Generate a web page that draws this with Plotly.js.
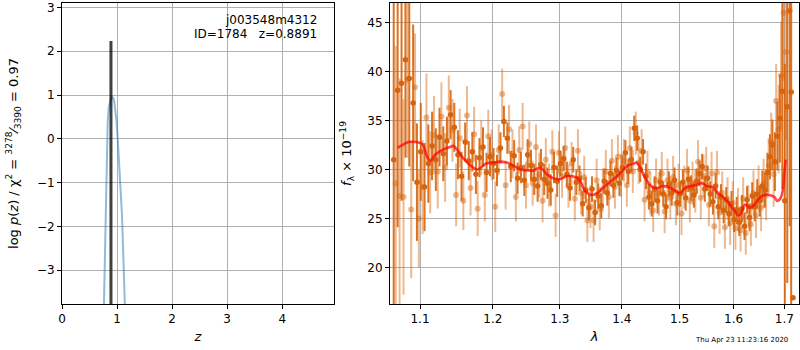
<!DOCTYPE html>
<html><head><meta charset="utf-8">
<script src="https://cdn.plot.ly/plotly-3.0.1.min.js"></script>
<style>html,body{margin:0;padding:0;background:#fff}#g{width:800px;height:350px}</style>
</head><body><div id="g"></div>
<script>
// ---- left panel: redshift PDF ----
const zGrid = [0.755,0.765,0.775,0.785,0.80,0.815,0.83,0.85,0.87,0.89,0.91,0.93,0.95,0.97,0.99,1.01,1.03,1.05,1.07,1.09,1.11,1.13,1.15];
const logPz = [-4.2,-3.6,-2.6,-1.8,-1.0,-0.2,0.4,0.72,0.88,0.93,0.95,0.94,0.85,0.65,0.4,0.05,-0.35,-0.75,-1.1,-1.75,-2.55,-3.3,-4.1];
const zBest = 0.8891;
const zBestTop = 2.23;
const zTicks = [0,1,2,3,4];
const pTicks = [-3,-2,-1,0,1,2,3];

// ---- right panel: spectrum (dark = first grism spectrum) ----
const lamA = [1.066,1.071,1.076,1.081,1.086,1.091,1.096,1.101,1.106,1.111,1.116,1.121,1.126,1.131,1.136,1.141,1.146,1.151,1.156,1.161,1.166,1.171,1.176,1.181,1.186,1.191,1.196,1.201,1.206,1.211,1.216,1.221,1.226,1.231,1.236,1.241,1.246,1.251,1.256,1.261,1.266,1.271,1.276,1.281,1.286,1.291,1.296,1.301,1.306,1.311,1.316,1.321,1.326,1.331,1.336,1.341,1.346,1.351,1.356,1.361,1.366,1.371,1.376,1.381,1.386,1.391,1.396,1.401,1.406,1.411,1.416,1.421,1.426,1.431,1.436,1.441,1.446,1.451,1.456,1.461,1.466,1.471,1.476,1.481,1.486,1.491,1.496,1.501,1.506,1.511,1.516,1.521,1.526,1.531,1.536,1.541,1.546,1.551,1.556,1.561,1.566,1.571,1.576,1.581,1.586,1.591,1.596,1.601,1.606,1.611,1.616,1.621,1.626,1.631,1.636,1.641,1.646,1.651,1.656,1.661,1.666,1.671,1.676,1.681,1.686,1.691,1.696,1.701,1.706,1.711,1.714,1.7177];
const fluxA = [31.0,38.1,38.8,41.2,39.3,36.8,28.7,31.8,28.2,30.6,32.4,31.0,33.3,31.6,32.9,35.6,34.3,31.5,29.3,32.8,30.9,31.8,29.5,31.2,32.3,29.7,31.3,30.6,29.9,32.2,34.9,33.2,30.3,31.4,29.1,30.2,28.9,31.5,30.4,29.0,28.3,30.5,29.0,28.6,27.9,30.2,28.8,30.6,31.1,29.5,28.1,31.0,28.7,29.1,26.5,27.9,26.1,28.0,25.6,27.3,26.3,28.8,27.6,29.6,28.4,29.9,28.6,30.2,31.7,29.8,31.0,34.2,33.2,30.0,31.8,29.3,27.2,26.5,28.0,26.8,28.7,27.5,26.2,28.5,27.6,28.9,26.6,27.5,28.7,27.1,29.0,28.1,27.4,28.8,29.6,30.3,28.0,29.1,27.5,26.7,28.3,26.2,27.2,25.8,26.9,25.5,26.5,24.9,25.8,24.6,26.0,24.2,26.9,25.1,27.3,26.2,27.5,26.8,28.3,27.9,29.7,31.3,32.5,30.8,33.4,35.2,38.0,26.8,36.4,46.2,37.9,16.9];
const errA = [16,14,12,10,9,8,6,5,4.5,4,3.5,3.2,3,2.8,2.5,2.5,2.5,2.5,2.5,2.0,2.0,2.0,2.0,2.0,2.0,2.0,2.0,1.6,1.6,1.6,1.6,1.6,1.6,1.6,1.6,1.6,1.6,1.6,1.6,1.6,1.6,1.6,1.6,1.6,1.6,1.6,1.6,1.3,1.3,1.3,1.3,1.3,1.3,1.3,1.3,1.3,1.3,1.3,1.3,1.3,1.3,1.3,1.3,1.3,1.3,1.3,1.3,1.3,1.3,1.3,1.3,1.3,1.3,1.3,1.3,1.3,1.3,1.3,1.3,1.3,1.3,1.3,1.3,1.3,1.3,1.3,1.3,1.3,1.3,1.3,1.3,1.3,1.3,1.3,1.3,1.3,1.3,1.3,1.3,1.3,1.3,1.3,1.3,1.3,1.3,1.3,1.3,1.3,1.4,1.4,1.4,1.4,1.4,1.4,1.4,1.5,1.5,1.6,1.6,1.8,2.0,2.3,2.6,3.0,3.5,4.5,10,14,18,22,30];

// light = second grism spectrum
const lamB = [1.0685,1.0735,1.0785,1.0835,1.0885,1.0935,1.0985,1.1035,1.1085,1.1135,1.1185,1.1235,1.1285,1.1335,1.1385,1.1435,1.1485,1.1535,1.1585,1.1635,1.1685,1.1735,1.1785,1.1835,1.1885,1.1935,1.1985,1.2035,1.2085,1.2135,1.2185,1.2235,1.2285,1.2335,1.2385,1.2435,1.2485,1.2535,1.2585,1.2635,1.2685,1.2735,1.2785,1.2835,1.2885,1.2935,1.2985,1.3035,1.3085,1.3135,1.3185,1.3235,1.3285,1.3335,1.3385,1.3435,1.3485,1.3535,1.3585,1.3635,1.3685,1.3735,1.3785,1.3835,1.3885,1.3935,1.3985,1.4035,1.4085,1.4135,1.4185,1.4235,1.4285,1.4335,1.4385,1.4435,1.4485,1.4535,1.4585,1.4635,1.4685,1.4735,1.4785,1.4835,1.4885,1.4935,1.4985,1.5035,1.5085,1.5135,1.5185,1.5235,1.5285,1.5335,1.5385,1.5435,1.5485,1.5535,1.5585,1.5635,1.5685,1.5735,1.5785,1.5835,1.5885,1.5935,1.5985,1.6035,1.6085,1.6135,1.6185,1.6235,1.6285,1.6335,1.6385,1.6435,1.6485,1.6535,1.6585,1.6635,1.6685,1.6735,1.6785,1.6835,1.6885,1.6935,1.6985,1.7035];
const fluxB = [28.6,27.3,27.2,39.2,25.9,38.4,25.0,28.2,35.3,29.7,33.5,29.8,35.4,30.2,36.3,34.0,27.4,33.2,26.8,35.5,28.1,33.6,26.0,32.2,27.4,33.4,31.5,26.2,32.0,37.7,28.4,34.1,31.6,27.2,32.0,34.4,28.4,32.6,28.6,32.3,29.4,26.8,31.0,28.4,31.8,25.3,31.7,29.3,32.2,28.3,30.6,27.0,31.9,27.6,29.2,24.8,26.2,24.8,28.9,26.0,27.9,29.8,27.2,30.9,28.2,31.3,29.4,30.9,28.4,32.2,29.8,33.7,30.7,31.9,26.9,29.7,27.6,25.8,28.9,27.5,29.6,25.7,28.9,27.1,29.2,26.5,28.4,25.5,28.2,29.9,26.8,28.6,27.8,30.8,27.1,29.3,30.1,26.4,29.6,24.2,29.7,25.6,27.6,24.1,27.0,24.5,26.6,24.0,25.9,23.8,27.0,23.5,26.2,24.4,27.6,25.3,28.0,26.1,28.6,27.4,30.4,32.8,29.5,37.0,34.1,39.6,46.0,42.0];
const errB = [14,12,10,8,7,5.5,5,4.8,4.5,4.2,4,3.8,3.5,3.5,3.3,3.2,3.2,3.0,3.0,3.0,2.8,2.8,2.8,2.8,2.7,2.7,2.6,2.6,2.6,2.6,2.5,2.5,2.5,2.5,2.4,2.4,2.4,2.3,2.3,2.3,2.3,2.2,2.2,2.2,2.2,2.2,2.2,2.2,2.2,2.2,2.2,2.2,2.2,2.2,2.2,2.2,2.2,2.2,2.2,2.2,2.2,2.2,2.2,2.2,2.2,2.2,2.2,2.2,2.2,2.2,2.2,2.2,2.2,2.2,2.2,2.2,2.2,2.2,2.2,2.2,2.2,2.2,2.2,2.2,2.2,2.2,2.2,2.2,2.2,2.2,2.2,2.2,2.2,2.2,2.2,2.2,2.2,2.2,2.2,2.2,2.2,2.2,2.2,2.2,2.2,2.2,2.2,2.2,2.2,2.2,2.2,2.2,2.2,2.2,2.3,2.3,2.4,2.4,2.5,2.6,2.8,3.0,3.3,3.8,4.5,5.5,7,9,12];

// model
const lamM = [1.071,1.075,1.085,1.095,1.103,1.110,1.114,1.120,1.130,1.140,1.145,1.150,1.160,1.170,1.178,1.185,1.190,1.200,1.210,1.220,1.230,1.240,1.250,1.260,1.270,1.280,1.290,1.300,1.310,1.320,1.330,1.340,1.350,1.360,1.370,1.380,1.390,1.400,1.410,1.420,1.425,1.430,1.440,1.450,1.460,1.470,1.480,1.490,1.500,1.510,1.520,1.530,1.540,1.550,1.560,1.570,1.580,1.590,1.600,1.610,1.615,1.620,1.625,1.630,1.640,1.650,1.660,1.670,1.680,1.685,1.690,1.695,1.698,1.700,1.7027];
const fluxM = [32.2,32.4,32.8,32.8,32.6,31.2,30.9,31.5,32.0,32.3,32.4,32.0,31.0,30.3,30.0,30.3,30.6,30.7,30.8,30.7,30.4,30.0,29.9,29.9,30.2,29.5,29.1,29.0,29.3,29.3,29.0,27.8,27.4,27.6,28.2,28.7,29.2,29.8,30.4,30.6,30.7,30.3,29.1,28.3,28.1,28.3,28.2,27.9,27.6,28.1,28.3,28.4,28.6,28.3,28.2,27.6,27.2,26.6,25.9,25.3,25.6,26.3,26.4,26.1,26.4,27.1,27.4,27.4,27.2,26.8,26.9,27.4,28.3,29.6,31.0];
const lamTicks = [1.1,1.2,1.3,1.4,1.5,1.6,1.7];
const fTicks = [20,25,30,35,40,45];

const dark = 'rgb(214,100,12)';
const light = 'rgba(214,100,12,0.45)';
const FAM = 'DejaVu Sans, sans-serif';
const font = {family:FAM, size:12, color:'#000'};

const traces = [
  {x: zGrid, y: logPz, xaxis:'x', yaxis:'y', mode:'lines', line:{color:'rgba(31,119,180,0.5)', width:2}, hoverinfo:'skip'},
  {x: [zBest, zBest], y: [-10, zBestTop], xaxis:'x', yaxis:'y', mode:'lines', line:{color:'rgba(0,0,0,0.75)', width:3}},
  {x: lamB, y: fluxB, xaxis:'x2', yaxis:'y2', mode:'markers', marker:{color:light, size:6},
   error_y:{type:'data', array:errB, color:light, thickness:2, width:0}},
  {x: lamA, y: fluxA, xaxis:'x2', yaxis:'y2', mode:'markers', marker:{color:dark, size:5.5},
   error_y:{type:'data', array:errA, color:'rgba(214,100,12,0.9)', thickness:2, width:0}},
  {x: lamM, y: fluxM, xaxis:'x2', yaxis:'y2', mode:'lines', line:{color:'rgba(255,0,0,0.72)', width:2.6, shape:'spline'}}
];

const ax = {showline:true, mirror:true, linecolor:'#000', linewidth:1, ticks:'outside', ticklen:4, tickcolor:'#000',
  showgrid:true, gridcolor:'#b0b0b0', gridwidth:1, zeroline:false, tickfont:font, ticklabeloverflow:'allow'};

const layout = {
  width:800, height:350, showlegend:false,
  margin:{l:62, r:1, t:3, b:46},
  paper_bgcolor:'#fff', plot_bgcolor:'#fff', font:font,
  xaxis: Object.assign({}, ax, {domain:[0,0.36907], range:[0,4.94], tickvals:zTicks,
    title:{text:'<i>z</i>', font:{family:FAM,size:13}, standoff:6}}),
  yaxis: Object.assign({}, ax, {domain:[0,1], range:[-3.77,3.1], tickvals:pTicks,
    title:{text:'log <i>p</i>(<i>z</i>) / χ<sup>2</sup> = <sup>3278</sup>⁄<sub>3390</sub> = 0.97', font:{family:FAM,size:13}, standoff:15}}),
  xaxis2: Object.assign({}, ax, {anchor:'y2', domain:[0.44505,1], type:'log', range:[0.025825,0.238072], tickvals:lamTicks, ticktext:lamTicks.map(String),
    title:{text:'<i>λ</i>', font:{family:FAM,size:13}, standoff:6}}),
  yaxis2: Object.assign({}, ax, {anchor:'x2', domain:[0,1], range:[16.26,47.0], tickvals:fTicks,
    title:{text:'<i>f</i><sub>λ</sub> × 10<sup>−19</sup>', font:{family:FAM,size:13}, standoff:12}}),
  annotations:[
    {xref:'paper', yref:'paper', x:0.3487, y:0.945, xanchor:'right', yanchor:'middle', showarrow:false,
     text:'j003548m4312', font:{family:FAM,size:12}},
    {xref:'paper', yref:'paper', x:0.3487, y:0.896, xanchor:'right', yanchor:'middle', showarrow:false,
     text:'ID=1784&nbsp;&nbsp;&nbsp;z=0.8891', font:{family:FAM,size:12}},
    {xref:'paper', yref:'paper', x:0.9226, y:-0.12, xanchor:'center', yanchor:'middle', showarrow:false,
     text:'Thu Apr 23 11:23:16 2020', font:{family:FAM,size:7}}
  ]
};
Plotly.newPlot('g', traces, layout, {displayModeBar:false, staticPlot:true});
</script></body></html>
